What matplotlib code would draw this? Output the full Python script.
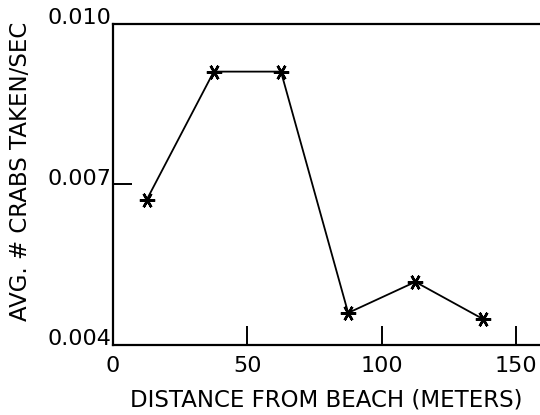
import matplotlib
matplotlib.use("Agg")
import matplotlib.pyplot as plt

# distance from beach (m) and average crabs taken per second
distance_m = [12.5, 37.5, 62.5, 87.5, 112.5, 137.5]
crabs_per_sec = [0.00671, 0.00911, 0.00911, 0.00460, 0.00518, 0.00449]

x_ticks = [0, 50, 100, 150]
y_ticks = [0.004, 0.007, 0.010]
y_tick_labels = ["0.004", "0.007", "0.010"]

plt.rcParams["font.family"] = ["DejaVu Sans"]

fig = plt.figure(figsize=(5.4, 4.15), dpi=100)
ax = fig.add_axes([113 / 540, 70 / 415, 430 / 540, 321 / 415])

ax.plot(distance_m, crabs_per_sec, color="black", linewidth=1.3,
        marker=(6, 2, 90), markersize=11, markeredgewidth=1.8,
        markeredgecolor="black")

ax.set_xlim(0, 160)
ax.set_ylim(0.004, 0.010)
ax.set_xticks(x_ticks)
ax.set_yticks(y_ticks)
ax.set_yticklabels(y_tick_labels, va="baseline")

ax.spines["right"].set_visible(False)
for side in ("left", "bottom", "top"):
    ax.spines[side].set_linewidth(1.6)
ax.tick_params(axis="both", direction="in", length=14, width=1.4,
               labelsize=16)
ax.tick_params(axis="x", pad=8)
ax.tick_params(axis="y", pad=1)

ax.set_xlabel("DISTANCE FROM BEACH (METERS)", fontsize=16.5)
ax.set_ylabel("AVG. # CRABS TAKEN/SEC", fontsize=16.5)
ax.xaxis.set_label_coords(0.495, -0.171)
ax.yaxis.set_label_coords(-0.216, 0.54)
ax.xaxis.label.set_va("center")
ax.yaxis.label.set_va("center")

fig.savefig("out.png", dpi=100)
